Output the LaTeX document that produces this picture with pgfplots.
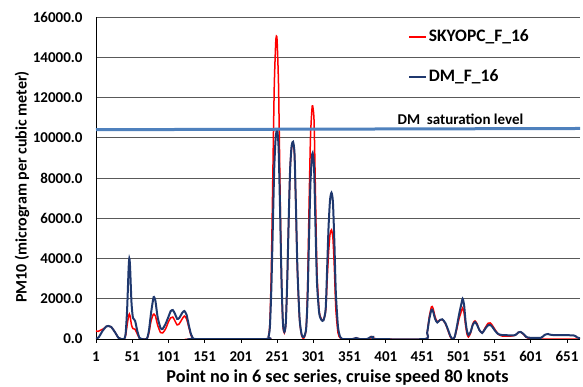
\documentclass[border=0pt]{standalone}
\usepackage{pgfplots}
\pgfplotsset{compat=1.18}
\usepackage{fontspec}
\setmainfont{Carlito}
\definecolor{skyred}{RGB}{255,0,0}
\definecolor{dmblue}{RGB}{31,56,110}
\definecolor{satblue}{RGB}{79,129,189}
\newcommand{\fs}{\fontsize{15}{18}\selectfont\bfseries}
\newcommand{\fl}{\fontsize{17.5}{21}\selectfont\bfseries}
\newcommand{\fx}{\fontsize{18.2}{21}\selectfont\bfseries}
\newcommand{\fy}{\fontsize{16}{19}\selectfont\bfseries}
\begin{document}
\begin{tikzpicture}
\begin{axis}[
  at={(0pt,0pt)}, anchor=south west,
  scale only axis, width=484pt, height=322pt,
  xmin=1, xmax=669, ymin=0, ymax=16000,
  axis x line*=bottom, axis y line*=left,
  hide obscured x ticks=false, hide obscured y ticks=false,
  axis line style={black, line width=0.8pt, -},
  xtick={1,51,...,651},
  ytick={0,2000,...,16000},
  xtick style={black, line width=0.8pt},
  x tick label style={font=\fs, yshift=-5pt},
  tick align=outside,
  major tick length=4pt,
  ytick style={draw=none},
  ymajorgrids, grid style={black!65, line width=0.8pt},
  /pgf/number format/assume math mode=true,
  yticklabel style={font=\fs, xshift=-6pt, /pgf/number format/.cd, fixed, fixed zerofill, precision=1, 1000 sep={}},
  xticklabel style={/pgf/number format/.cd, 1000 sep={}},
  scaled y ticks=false,
  every axis x label/.style={at={(rel axis cs:0.499,0)}, anchor=base, yshift=-44pt, font=\fx},
  every axis y label/.style={at={(axis description cs:-0.153,0.472)}, rotate=90, anchor=center, font=\fy},
  xlabel={Point no in 6 sec series, cruise speed 80 knots},
  ylabel={PM10 (microgram per cubic meter)},
  legend style={at={(rel axis cs:0.645,0.969)}, anchor=north west, draw=none, fill=none,
    font=\fl, row sep=20pt, inner sep=0pt,
    nodes={inner sep=1.5pt, text height=13pt, text depth=4pt}},
  legend cell align=left,
  legend image code/.code={\draw[#1] (0pt,0pt) -- (17pt,0pt);},
  clip=true,
]
\addplot[skyred, line width=1.5pt, smooth, tension=0.4] coordinates {
(1,400) (4,380) (8,450) (12,520) (15,620) (18,650) (22,600) (27,350) (32,60) (36,0) (40,0)
(42,200) (44,700) (46,1150) (47,1240) (48,1150) (50,700) (52,520) (55,480) (58,250) (61,30) (64,0) (71,0)
(74,300) (77,900) (80,1220) (81,1240) (83,1150) (86,700) (90,320) (93,300) (97,500) (101,850) (104,1050)
(107,1090) (110,900) (113,700) (116,760) (120,1000) (123,1140) (126,1000) (129,600) (132,200) (135,20) (138,0)
(236,0) (239,100) (241,800) (243,3500) (245,8000) (247,12500) (249,14700) (250,15050) (251,14800) (253,12500)
(255,7500) (257,3000) (259,700) (261,300) (263,800) (265,3000) (267,6000) (269,8500) (271,9500) (273,9700)
(275,9100) (277,6400) (279,3400) (282,950) (285,150) (288,50) (291,500) (293,2500) (295,6500) (297,10000)
(299,11400) (300,11580) (302,10800) (304,7000) (306,3300) (309,1400) (312,1000) (315,950) (318,1400)
(320,2900) (322,4300) (324,5200) (326,5420) (328,5000) (330,3500) (332,1500) (335,300) (338,50) (341,0)
(355,0) (360,50) (365,0) (378,0) (381,120) (384,80) (387,0) (455,0) (458,300) (461,1100) (464,1600)
(466,1550) (469,1100) (472,860) (476,950) (479,960) (483,780) (487,400) (490,100) (493,0) (496,100)
(499,500) (502,1000) (505,1350) (507,1540) (509,1300) (511,700) (513,250) (515,100) (518,300) (521,750)
(524,900) (527,750) (530,450) (534,300) (538,550) (542,780) (545,800) (548,680) (552,450) (556,250)
(561,150) (575,150) (580,200) (584,330) (587,350) (591,230) (595,80) (600,30) (610,0) (669,0)
};
\addlegendentry{SKYOPC\_F\_16}
\addplot[dmblue, line width=2pt, smooth, tension=0.4] coordinates {
(1,0) (5,100) (10,400) (15,620) (18,650) (22,600) (27,350) (32,60) (36,0) (40,0)
(42,300) (44,1500) (46,3500) (47,4000) (48,3600) (50,1800) (52,1050) (55,900) (58,400) (61,50) (64,0) (71,0)
(74,400) (77,1300) (80,2000) (81,2090) (83,1900) (86,1100) (90,550) (93,500) (97,750) (101,1100) (104,1380)
(107,1440) (110,1250) (113,1000) (116,1050) (120,1300) (123,1390) (126,1200) (129,700) (132,250) (135,30) (138,0)
(236,0) (239,100) (241,600) (243,2500) (245,5500) (247,8500) (249,10000) (251,10400) (253,9500) (255,6500)
(257,3000) (259,800) (261,350) (263,800) (265,3000) (267,6000) (269,8500) (271,9600) (273,9800) (275,9200)
(277,6500) (279,3500) (282,1000) (285,200) (288,100) (291,500) (293,2000) (295,5000) (297,7800) (299,9000)
(300,9240) (302,8500) (304,5500) (306,2800) (309,1300) (312,950) (315,930) (318,1500) (320,3500) (322,5600)
(324,6900) (326,7270) (328,6800) (330,4800) (332,2300) (335,600) (338,100) (341,0) (355,0) (360,50) (365,0)
(375,0) (380,100) (383,100) (387,0) (455,0) (458,300) (461,1000) (464,1450) (466,1400) (469,1000) (472,820)
(476,950) (479,980) (483,800) (487,450) (490,150) (493,0) (496,100) (499,600) (502,1200) (505,1700)
(507,2000) (509,1700) (511,900) (513,400) (515,200) (518,350) (521,700) (524,840) (527,700) (530,450)
(534,300) (538,500) (542,680) (545,700) (548,600) (552,400) (556,250) (561,200) (575,180) (580,200)
(584,330) (587,350) (591,250) (595,100) (600,60) (615,60) (620,200) (625,250) (630,200) (660,180)
(664,100) (669,30)
};
\addlegendentry{DM\_F\_16}
\addplot[satblue, line width=3pt, forget plot] coordinates {(1,10400) (669,10460)};
\node[font=\fs, anchor=center] at (axis cs:504,10900) {DM\ \ saturation level};
\end{axis}
\pgfresetboundingbox
\path[use as bounding box] (-96pt,-48pt) rectangle (487pt,339pt);
\end{tikzpicture}
\end{document}
